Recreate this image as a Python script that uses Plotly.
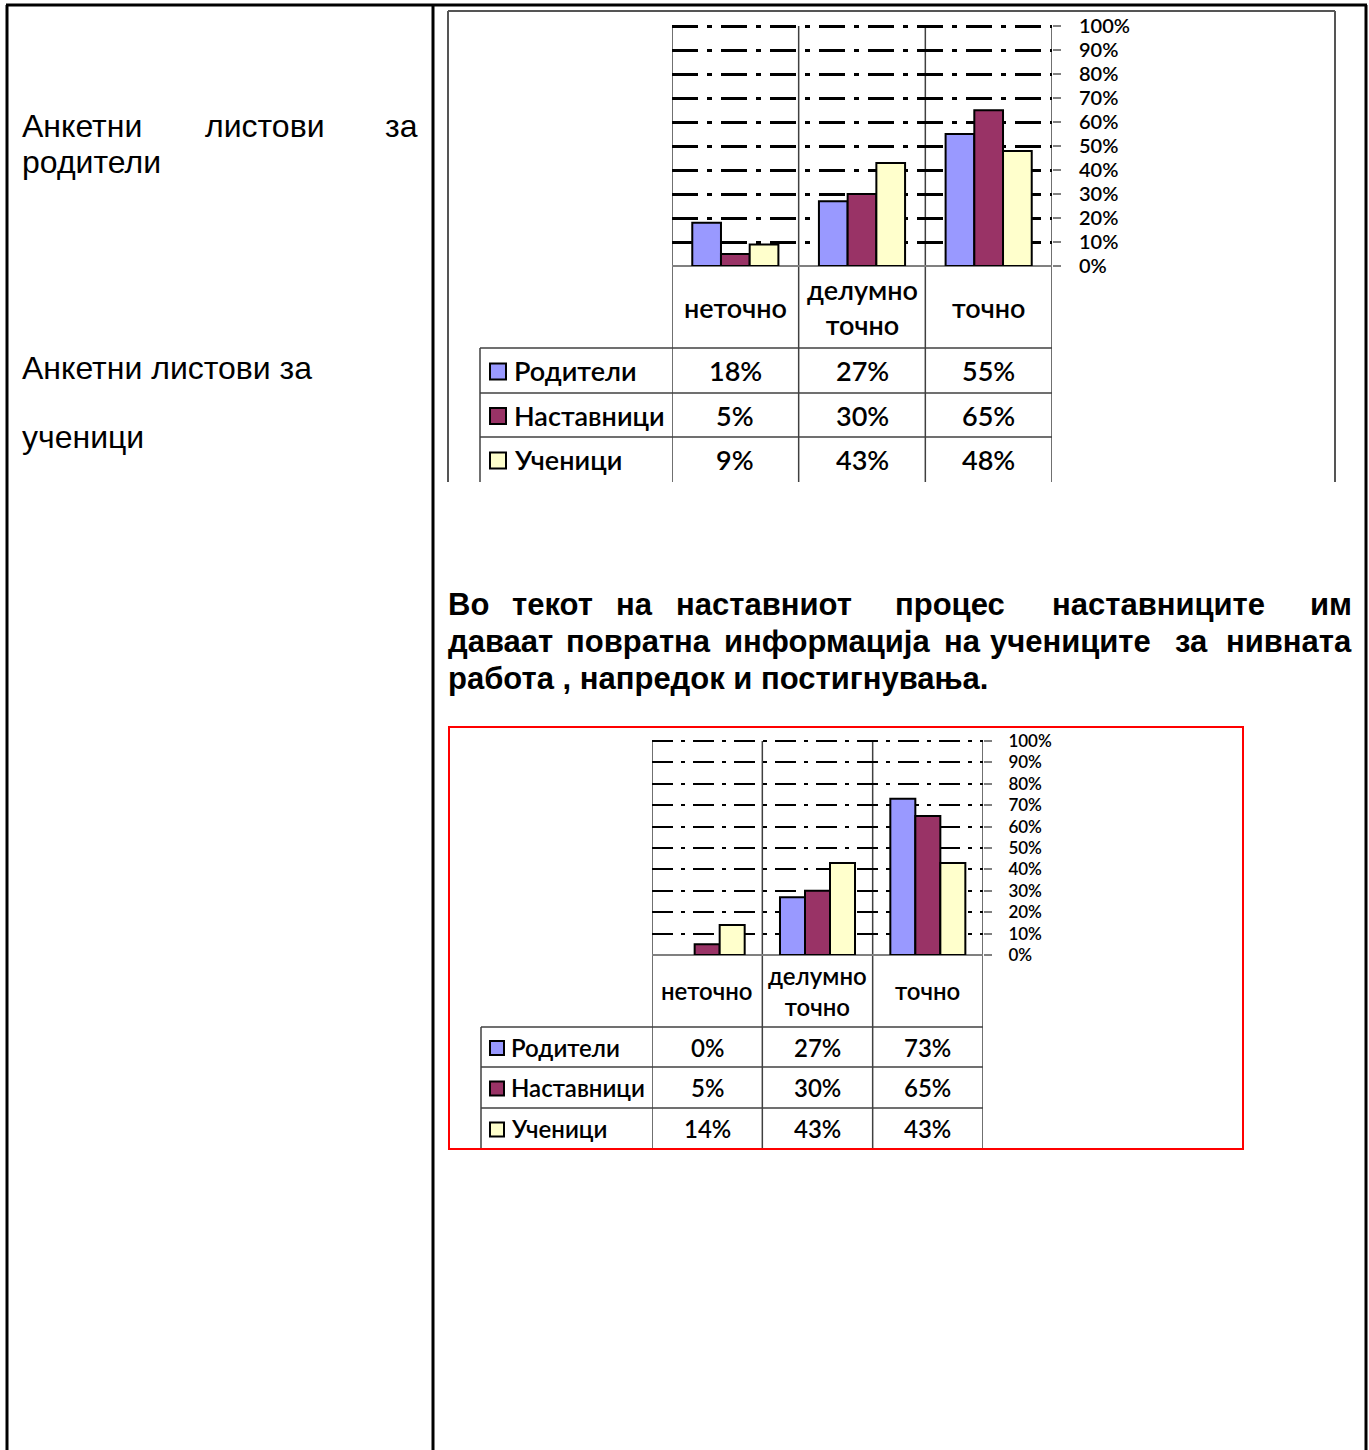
import plotly.graph_objects as go

W, H = 1369, 1450


def px(x):
    return x / W


def py(y):
    return 1 - y / H


# ---------------- data ----------------
categories = ["неточно", "делумно точно", "точно"]
series_names = ["Родители", "Наставници", "Ученици"]
series_colors = ["#9999FF", "#993366", "#FFFFCC"]

top_parents = [0.18, 0.27, 0.55]
top_teachers = [0.05, 0.30, 0.65]
top_students = [0.09, 0.43, 0.48]

bottom_parents = [0.00, 0.27, 0.73]
bottom_teachers = [0.05, 0.30, 0.65]
bottom_students = [0.14, 0.43, 0.43]

y_tick_values = [0.0, 0.1, 0.2, 0.3, 0.4, 0.5, 0.6, 0.7, 0.8, 0.9, 1.0]
y_tick_labels = ["0%", "10%", "20%", "30%", "40%", "50%", "60%", "70%", "80%", "90%", "100%"]

left_text_1 = ["Анкетни", "листови", "за"]
left_text_2 = "родители"
left_text_3 = "Анкетни листови за"
left_text_4 = "ученици"
para_line_1 = ["Во", "текот", "на", "наставниот", "процес", "наставниците", "им"]
para_line_2 = ["даваат", "повратна", "информација", "на", "учениците", "за", "нивната"]
para_line_3 = "работа , напредок и постигнувања."

# ---------------- layout geometry ----------------
charts = [
    dict(series=[top_parents, top_teachers, top_students],
         xa="x", ya="y", x0=672, x1=1052, ytop=25, ybot=266, head=348,
         rows=[348, 393, 437, 482], legx=480, sq=(490, 506), txt=514,
         tick_font=20, table_font=27, ticklen=8, standoff=14,
         dash="26px,9px,5px,9px", gw=2.5),
    dict(series=[bottom_parents, bottom_teachers, bottom_students],
         xa="x2", ya="y2", x0=652, x1=983, ytop=740, ybot=955, head=1027,
         rows=[1027, 1067, 1108, 1149], legx=481, sq=(490, 504), txt=511,
         tick_font=17, table_font=24, ticklen=8, standoff=13,
         dash="21px,8px,4px,8px", gw=2),
]

FONT_TABLE = "Lato"
GRAY = "#404040"

fig = go.Figure()
shapes = []
annotations = []

for ci, ch in enumerate(charts):
    for si, vals in enumerate(ch["series"]):
        fig.add_trace(go.Bar(
            x=categories, y=vals, name=series_names[si],
            xaxis=ch["xa"], yaxis=ch["ya"],
            marker=dict(color=series_colors[si],
                        line=dict(color="black", width=[0 if v == 0 else 2 for v in vals])),
            showlegend=False, hoverinfo="skip",
        ))
    suffix = "" if ci == 0 else "2"
    fig.update_layout(**{
        "xaxis" + suffix: dict(
            domain=[px(ch["x0"]), px(ch["x1"])], anchor=ch["ya"],
            type="category", range=[-0.5, 2.5], showticklabels=False,
            showgrid=False, zeroline=False, showline=False, ticks="",
            fixedrange=True, automargin=False,
        ),
        "yaxis" + suffix: dict(
            domain=[py(ch["ybot"]), py(ch["ytop"])], anchor=ch["xa"],
            side="right", range=[0, 1.005], tickvals=y_tick_values, ticktext=y_tick_labels,
            showgrid=True, gridcolor="black", gridwidth=ch["gw"], griddash=ch["dash"],
            zeroline=True, zerolinecolor="#808080", zerolinewidth=1.5,
            showline=False, ticks="outside", ticklen=ch["ticklen"],
            tickcolor="#808080", tickwidth=1.5, ticklabelstandoff=ch["standoff"],
            tickfont=dict(family=FONT_TABLE, size=ch["tick_font"], color="black", weight=600),
            fixedrange=True, automargin=False,
        ),
    })

    # category divider lines (plot + table)
    for k in range(4):
        shapes.append(dict(type="line", xref=ch["xa"], yref="paper",
                           x0=k - 0.5, x1=k - 0.5, y0=py(ch["rows"][-1]), y1=py(ch["ytop"] + 1),
                           line=dict(color=GRAY, width=1.5), layer="below"))
    # table horizontal lines
    for yy in ch["rows"][:-1]:
        shapes.append(dict(type="line", xref="paper", yref="paper",
                           x0=px(ch["legx"]), x1=px(ch["x1"]), y0=py(yy), y1=py(yy),
                           line=dict(color=GRAY, width=1.5)))
    shapes.append(dict(type="line", xref="paper", yref="paper",
                       x0=px(ch["legx"]), x1=px(ch["legx"]),
                       y0=py(ch["rows"][-1]), y1=py(ch["rows"][0]),
                       line=dict(color=GRAY, width=1.5)))

    # header category labels
    for i, cat in enumerate(categories):
        annotations.append(dict(
            xref=ch["xa"], yref="paper", x=i, y=py((ch["ybot"] + ch["head"]) / 2),
            text="<br>".join(cat.split()), showarrow=False,
            xanchor="center", yanchor="middle",
            font=dict(family=FONT_TABLE, size=ch["table_font"], color="black", weight=600),
        ))
    # rows
    for si, vals in enumerate(ch["series"]):
        ya = ch["rows"][si]
        yb = ch["rows"][si + 1]
        yc = (ya + yb) / 2
        s0, s1 = ch["sq"]
        half = (s1 - s0) / 2
        shapes.append(dict(type="rect", xref="paper", yref="paper",
                           x0=px(s0), x1=px(s1), y0=py(yc + half + 1), y1=py(yc - half + 1),
                           fillcolor=series_colors[si], line=dict(color="black", width=2)))
        annotations.append(dict(
            xref="paper", yref="paper", x=px(ch["txt"] - 2), y=py(yc),
            text=series_names[si], showarrow=False, xanchor="left", yanchor="middle",
            font=dict(family=FONT_TABLE, size=ch["table_font"], color="black", weight=600),
        ))
        for i, v in enumerate(vals):
            annotations.append(dict(
                xref=ch["xa"], yref="paper", x=i, y=py(yc),
                text=f"{round(v * 100)}%", showarrow=False,
                xanchor="center", yanchor="middle",
                font=dict(family=FONT_TABLE, size=ch["table_font"], color="black", weight=600),
            ))

# ---------------- page frame ----------------
BLACK_W = 3
shapes += [
    dict(type="line", xref="paper", yref="paper", x0=px(6), x1=px(1367), y0=py(5), y1=py(5),
         line=dict(color="black", width=BLACK_W)),
    dict(type="line", xref="paper", yref="paper", x0=px(7), x1=px(7), y0=0, y1=py(5),
         line=dict(color="black", width=BLACK_W)),
    dict(type="line", xref="paper", yref="paper", x0=px(433), x1=px(433), y0=0, y1=py(5),
         line=dict(color="black", width=BLACK_W)),
    dict(type="line", xref="paper", yref="paper", x0=px(1366), x1=px(1366), y0=0, y1=py(5),
         line=dict(color="black", width=BLACK_W)),
    # top chart frame (open at bottom)
    dict(type="line", xref="paper", yref="paper", x0=px(448), x1=px(1335), y0=py(11), y1=py(11),
         line=dict(color="#555555", width=2)),
    dict(type="line", xref="paper", yref="paper", x0=px(448), x1=px(448), y0=py(482), y1=py(11),
         line=dict(color="#555555", width=2)),
    dict(type="line", xref="paper", yref="paper", x0=px(1335), x1=px(1335), y0=py(482), y1=py(11),
         line=dict(color="#555555", width=2)),
    # bottom chart red frame
    dict(type="rect", xref="paper", yref="paper", x0=px(449), x1=px(1243), y0=py(1149), y1=py(727),
         line=dict(color="#FF0000", width=2), fillcolor="rgba(0,0,0,0)"),
]

# ---------------- text ----------------
TXT = "Liberation Sans"


def text_at(x, y, s, font, anchor="left"):
    shift = -2 if anchor == "left" else 2
    annotations.append(dict(xref="paper", yref="paper", x=px(x + shift), y=py(y), text=s,
                            showarrow=False, xanchor=anchor, yanchor="middle", font=font))


left_font = dict(family=TXT, size=32, color="black")
text_at(22, 126, left_text_1[0], left_font)
text_at(205, 126, left_text_1[1], left_font)
text_at(418, 126, left_text_1[2], left_font, "right")
text_at(22, 162, left_text_2, left_font)
text_at(22, 368, left_text_3, left_font)
text_at(22, 437, left_text_4, left_font)

bold_font = dict(family=TXT, size=31, color="black", weight="bold")
line1_x = [448, 512, 616, 676, 895, 1052]
for wi, word in enumerate(para_line_1[:-1]):
    text_at(line1_x[wi], 604, word, bold_font)
text_at(1352, 604, para_line_1[-1], bold_font, "right")

line2_x = [448, 566, 724, 944, 990, 1175]
for wi, word in enumerate(para_line_2[:-1]):
    text_at(line2_x[wi], 641, word, bold_font)
text_at(1352, 641, para_line_2[-1], bold_font, "right")

text_at(448, 678, para_line_3, bold_font)

fig.update_layout(
    width=W, height=H, autosize=False,
    margin=dict(l=0, r=0, t=0, b=0, pad=0, autoexpand=False),
    paper_bgcolor="white", plot_bgcolor="white",
    barmode="group", bargap=0.32, bargroupgap=0,
    shapes=shapes, annotations=annotations,
    showlegend=False,
)

fig.write_html(
    "out.html",
    config=dict(displayModeBar=False),
    post_script="document.body.style.margin='0px';document.body.style.overflow='hidden';",
)
